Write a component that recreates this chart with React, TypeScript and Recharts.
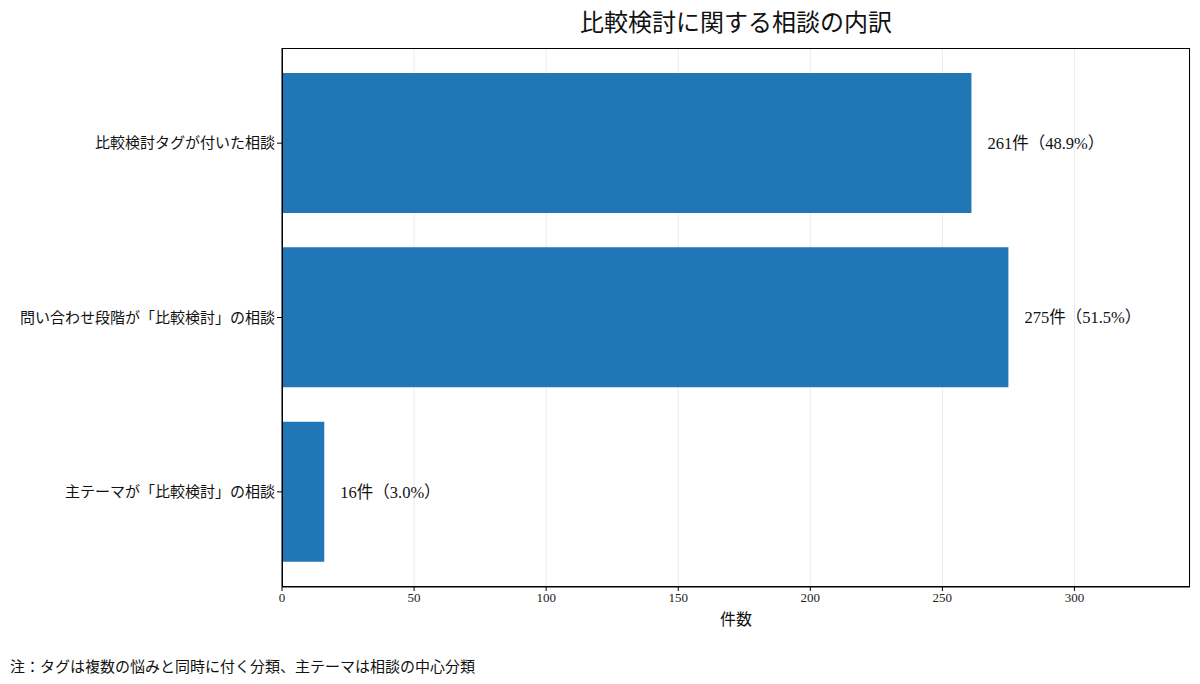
import { BarChart, Bar, XAxis, YAxis, CartesianGrid, LabelList } from "recharts";

const categories = [
  "比較検討タグが付いた相談",
  "問い合わせ段階が「比較検討」の相談",
  "主テーマが「比較検討」の相談",
];
const counts = [261, 275, 16];
const shares = [48.9, 51.5, 3.0];
const xTicks = [0, 50, 100, 150, 200, 250, 300];
const xMax = 343.75;

const data = categories.map((name, i) => ({ name, count: counts[i], share: shares[i] }));

const font = "'Liberation Serif', 'Noto Sans CJK JP', serif";

export default function App() {
  return (
    <div style={{ position: "absolute", left: 0, top: 0, width: 1200, height: 684, background: "#fff", fontFamily: font }}>
      <div style={{ position: "absolute", left: 282, width: 908, top: 3, textAlign: "center", fontSize: 24, color: "#111" }}>
        比較検討に関する相談の内訳
      </div>
      <BarChart
        width={1200}
        height={684}
        data={data}
        layout="vertical"
        margin={{ top: 48, right: 10, bottom: 0, left: 0 }}
        barCategoryGap={0}
      >
        <CartesianGrid horizontal={false} stroke="#ebebeb" />
        <XAxis
          type="number"
          dataKey="count"
          domain={[0, xMax]}
          ticks={xTicks}
          allowDataOverflow
          height={97}
          tickSize={4}
          stroke="#000"
          tick={{ fill: "#222", fontSize: 13, fontFamily: font }}
          label={{ value: "件数", position: "insideTop", offset: 27, fill: "#111", fontSize: 16, fontFamily: font }}
        />
        <YAxis
          type="category"
          dataKey="name"
          width={282}
          tickSize={5}
          stroke="#000"
          padding={{ top: 8, bottom: 8 }}
          tick={{ fill: "#111", fontSize: 15, fontFamily: font }}
        />
        <Bar dataKey="count" fill="#2176b6" barSize={140} isAnimationActive={false}>
          <LabelList
            dataKey="count"
            position="right"
            offset={16}
            fill="#111"
            fontSize={16.5}
            fontFamily={font}
            formatter={(v: number) => `${v}件（${shares[counts.indexOf(v)].toFixed(1)}%）`}
          />
        </Bar>
      </BarChart>
      <div
        style={{
          position: "absolute",
          left: 282,
          top: 48,
          width: 908,
          height: 539,
          boxSizing: "border-box",
          border: "1px solid #000",
          pointerEvents: "none",
        }}
      />
      <div style={{ position: "absolute", left: 10, top: 655, fontSize: 15, color: "#111" }}>
        注：タグは複数の悩みと同時に付く分類、主テーマは相談の中心分類
      </div>
    </div>
  );
}
